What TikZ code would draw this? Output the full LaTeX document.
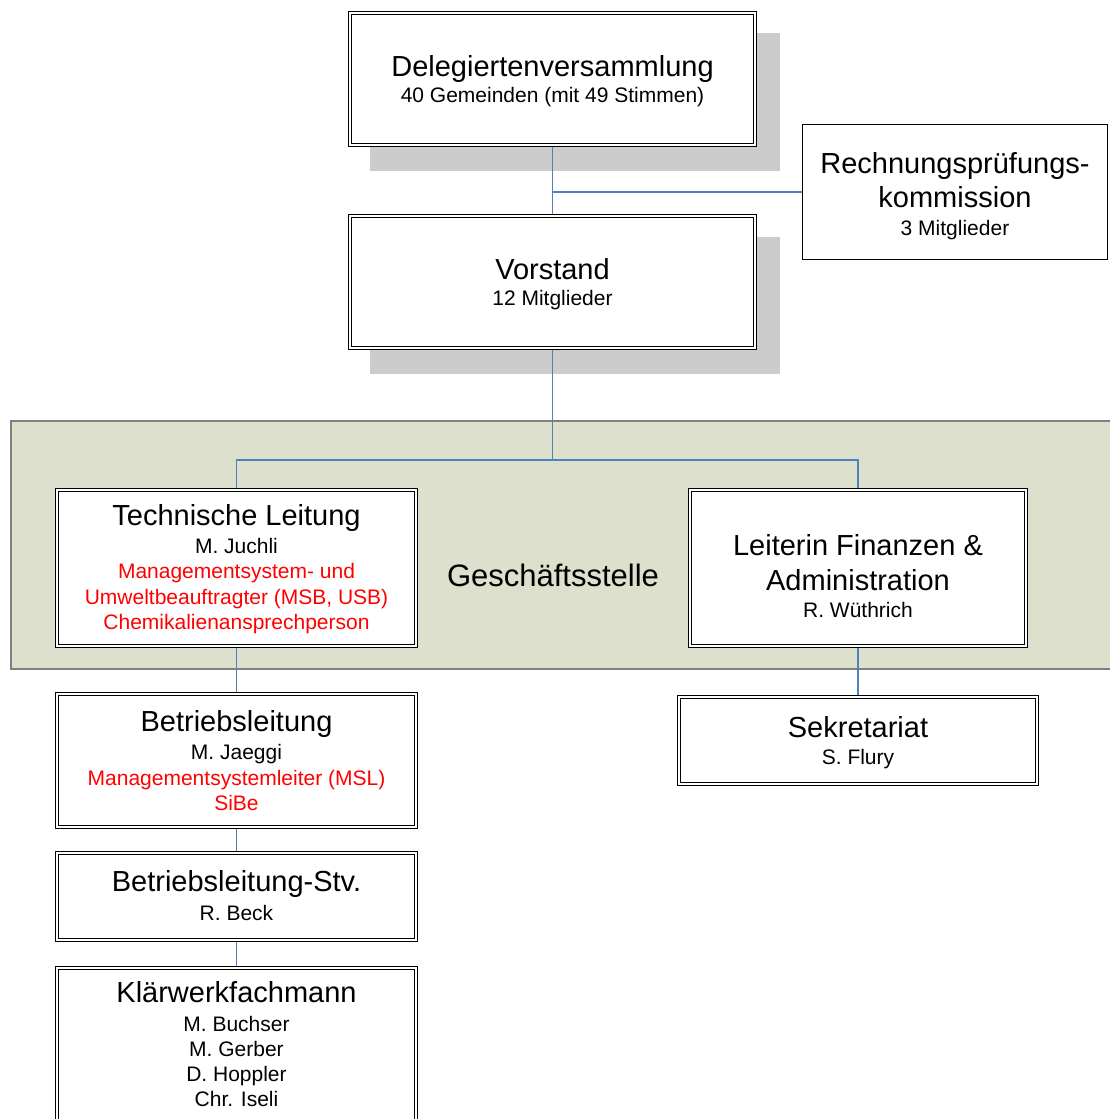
\documentclass[tikz,border=0pt]{standalone}
\usepackage{fontspec}
\setmainfont{Liberation Sans}
\definecolor{bandfill}{RGB}{221,224,204}
\definecolor{bandline}{RGB}{128,128,128}
\definecolor{shadegray}{RGB}{204,204,204}
\definecolor{connblue}{RGB}{79,129,189}
\definecolor{redtext}{RGB}{255,0,0}
\pgfdeclarelayer{bandlayer}
\pgfdeclarelayer{shadelayer}
\pgfdeclarelayer{connlayer}
\pgfsetlayers{bandlayer,shadelayer,connlayer,main}
\tikzset{
  orgbox/.style={rectangle, draw=black, line width=1.3pt, double=white, double distance=1.8pt, fill=white, inner sep=0pt},
  plainbox/.style={rectangle, draw=black, line width=1.5pt, fill=white, inner sep=0pt},
  conn/.style={draw=connblue, line width=1.5pt},
  tbig/.style={font=\fontsize{29}{34}\selectfont, inner sep=0pt, anchor=base},
  tsmall/.style={font=\fontsize{21}{25}\selectfont, inner sep=0pt, anchor=base},
  tred/.style={tsmall, text=redtext},
  tband/.style={font=\fontsize{31}{36}\selectfont, inner sep=0pt, anchor=base},
}
% name, x1, y1, x2, y2 (outer edges, pixels)
\newcommand\orgboxat[5]{%
  \node[orgbox, minimum width={#4-#2-4.4}, minimum height={#5-#3-4.4}] (#1) at ({(#2+#4)/2},{(#3+#5)/2}) {};}
\begin{document}
\begin{tikzpicture}[x=1pt,y=-1pt]
\clip (0,0) rectangle (1109,1119);
% Geschaeftsstelle band
\begin{pgfonlayer}{bandlayer}
  \fill[white] (0,0) rectangle (1109,1119);
  \fill[bandfill] (10,421) rectangle (1120,669);
  \draw[bandline, line width=1.5pt] (1120,421) -- (10.75,421) -- (10.75,669) -- (1120,669);
\end{pgfonlayer}
% shadows
\begin{pgfonlayer}{shadelayer}
  \fill[shadegray] (370,33) rectangle (780,171);
  \fill[shadegray] (370,237) rectangle (780,374);
\end{pgfonlayer}
% boxes
\orgboxat{dv}{348}{11}{757}{147}
\orgboxat{v}{348}{214}{757}{350}
\node[plainbox, minimum width=305, minimum height=135] (rpk) at (955,192) {};
\orgboxat{tl}{55}{488}{418}{648}
\orgboxat{lf}{688}{488}{1028}{648}
\orgboxat{sek}{677}{695}{1039}{786}
\orgboxat{bl}{55}{692}{418}{829}
\orgboxat{bls}{55}{851}{418}{942}
\orgboxat{kw}{55}{966}{418}{1140}
% texts
\node[tbig] (dv-a) at (552.5,76) {Delegiertenversammlung};
\node[tsmall] (dv-b) at (552.5,102) {40 Gemeinden (mit 49 Stimmen)};
\node[tbig] (v-a) at (552.5,279) {Vorstand};
\node[tsmall] (v-b) at (552.5,305) {12 Mitglieder};
\node[tbig] (rpk-a) at (955,173) {Rechnungsprüfungs-};
\node[tbig] (rpk-b) at (955,207) {kommission};
\node[tsmall] (rpk-c) at (955,235) {3 Mitglieder};
\node[tband] (gs) at (553,586) {Geschäftsstelle};
\node[tbig] (tl-a) at (236.5,525) {Technische Leitung};
\node[tsmall] (tl-b) at (236.5,553) {M. Juchli};
\node[tred] (tl-c) at (236.5,578.5) {Managementsystem- und};
\node[tred] (tl-d) at (236.5,604) {Umweltbeauftragter (MSB, USB)};
\node[tred] (tl-e) at (236.5,629.5) {Chemikalienansprechperson};
\node[tbig] (lf-a) at (858,555) {Leiterin Finanzen \&};
\node[tbig] (lf-b) at (858,590) {Administration};
\node[tsmall] (lf-c) at (858,617.5) {R. Wüthrich};
\node[tbig] (sek-a) at (858,737) {Sekretariat};
\node[tsmall] (sek-b) at (858,764) {S. Flury};
\node[tbig] (bl-a) at (236.5,731.5) {Betriebsleitung};
\node[tsmall] (bl-b) at (236.5,759) {M. Jaeggi};
\node[tred] (bl-c) at (236.5,785) {Managementsystemleiter (MSL)};
\node[tred] (bl-d) at (236.5,810) {SiBe};
\node[tbig] (bls-a) at (236.5,891.5) {Betriebsleitung-Stv.};
\node[tsmall] (bls-b) at (236.5,920) {R. Beck};
\node[tbig] (kw-a) at (236.5,1002.5) {Klärwerkfachmann};
\node[tsmall] (kw-b) at (236.5,1031) {M. Buchser};
\node[tsmall] (kw-c) at (236.5,1056.5) {M. Gerber};
\node[tsmall] (kw-d) at (236.5,1081.5) {D. Hoppler};
\node[tsmall] (kw-e) at (236.5,1106.5) {Chr. Iseli};
% connectors
\coordinate (bar) at (552.5,460);
\begin{pgfonlayer}{connlayer}
  \draw[conn] (dv.south) -- (v.north);
  \draw[conn] (dv.south |- rpk.west) -- (rpk.west);
  \draw[conn] (v.south) -- (bar);
  \draw[conn] (tl.north) |- (bar) -| (lf.north);
  \draw[conn] (tl.south) -- (bl.north);
  \draw[conn] (bl.south) -- (bls.north);
  \draw[conn] (bls.south) -- (kw.north);
  \draw[conn] (lf.south) -- (sek.north);
\end{pgfonlayer}
\end{tikzpicture}
\end{document}
